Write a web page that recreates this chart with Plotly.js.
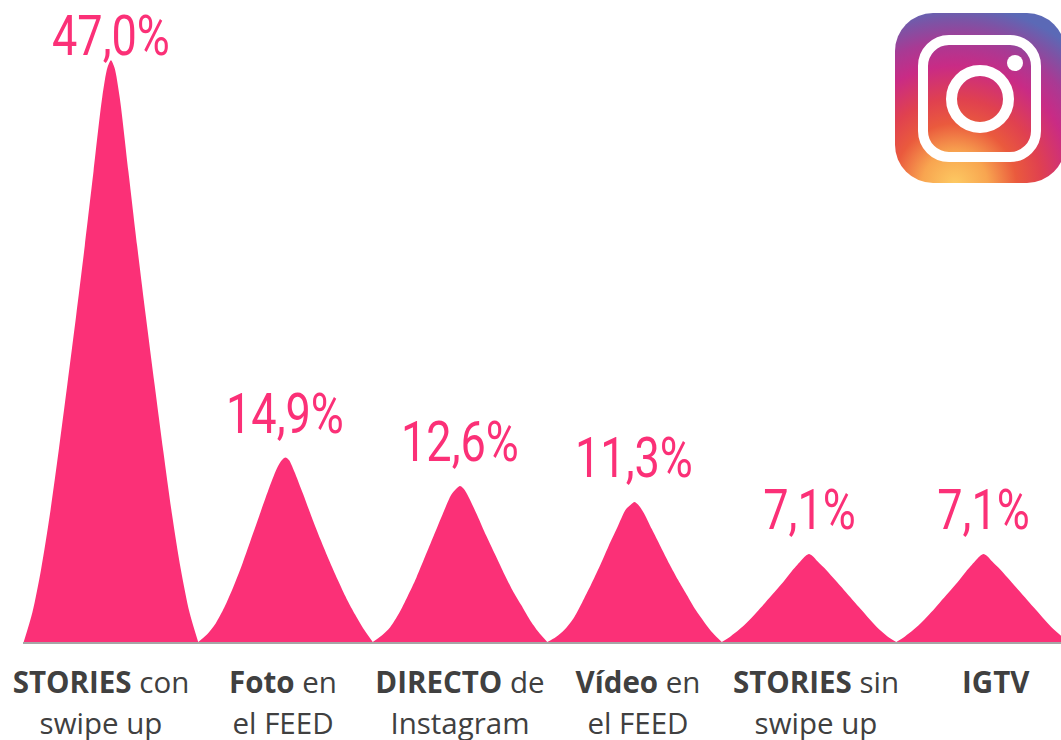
<!DOCTYPE html>
<html>
<head>
<meta charset="utf-8">
<script src="https://cdn.plot.ly/plotly-3.0.1.min.js"></script>
<style>html,body{margin:0;padding:0;background:#fff;overflow:hidden}</style>
</head>
<body>
<div id="chart" style="width:1061px;height:740px"></div>
<script>
// Values
const values = [47.0, 14.9, 12.6, 11.3, 7.1, 7.1];
const valueLabels = ["47,0%", "14,9%", "12,6%", "11,3%", "7,1%", "7,1%"];
const categoryLabels = [
  "<b>STORIES</b> con<br>swipe up",
  "<b>Foto</b> en<br>el FEED",
  "<b>DIRECTO</b> de<br>Instagram",
  "<b>Vídeo</b> en<br>el FEED",
  "<b>STORIES</b> sin<br>swipe up",
  "<b>IGTV</b><br> "
];
// The category labels sit slightly off the peaks in the reference
const labelPositions = [-0.057, 0.986, 2.0, 3.02, 4.04, 5.07];

// Outline of each peak: height (in %) at each offset from the peak
const offsets = [-0.5,-0.45,-0.4,-0.35,-0.3,-0.25,-0.2,-0.15,-0.1,-0.05,-0.02,0,0.02,0.05,0.1,0.15,0.2,0.25,0.3,0.35,0.4,0.45,0.5];
const peak1 = [0,2.4,5.9,10.3,15.4,20.8,26.3,32.0,38.0,44.0,46.4,47,46.4,44.0,38.0,32.0,26.3,20.8,15.4,10.3,5.9,2.4,0];
const peak2 = [0,0.6,1.5,2.8,4.4,6.2,8.2,10.2,12.2,14.0,14.7,14.9,14.7,13.8,12.0,10.1,8.3,6.6,5.0,3.5,2.2,1.0,0];
const peak3 = [0,0.5,1.2,2.3,3.7,5.2,6.9,8.6,10.3,11.9,12.4,12.6,12.4,11.7,10.2,8.6,7.1,5.6,4.2,3.0,1.8,0.8,0];
const peak4 = [0,0.4,1.0,1.9,3.2,4.6,6.1,7.7,9.2,10.7,11.1,11.3,11.1,10.5,9.1,7.7,6.3,5.0,3.8,2.6,1.6,0.7,0];
const peak5 = [0,0.45,1.0,1.65,2.4,3.2,4.0,4.8,5.7,6.5,6.95,7.1,6.95,6.5,5.8,5.0,4.2,3.4,2.6,1.8,1.05,0.45,0];
const peak6 = [0,0.45,1.0,1.65,2.4,3.2,4.0,4.8,5.7,6.5,6.95,7.1,6.95,6.5,5.8,5.0,4.2,3.4,2.6,1.8,1.05,0.45,0];
const peaks = [peak1, peak2, peak3, peak4, peak5, peak6];

const logoSvg = `<svg xmlns="http://www.w3.org/2000/svg" width="170" height="170" viewBox="0 0 170 170">
<defs>
<radialGradient id="g" gradientUnits="userSpaceOnUse" cx="60" cy="172" r="205">
<stop offset="0" stop-color="#fdcb63"/><stop offset="0.16" stop-color="#f8a550"/>
<stop offset="0.3" stop-color="#ea5a3d"/><stop offset="0.42" stop-color="#e0414f"/>
<stop offset="0.58" stop-color="#c92b85"/><stop offset="0.7" stop-color="#a83a94"/>
<stop offset="0.8" stop-color="#7d53a5"/><stop offset="0.88" stop-color="#5b69b6"/>
</radialGradient>
</defs>
<rect width="170" height="170" rx="38" fill="url(#g)"/>
<rect x="28" y="27" width="113" height="117" rx="26" fill="none" stroke="#fff" stroke-width="10"/>
<circle cx="85" cy="86" r="28.5" fill="none" stroke="#fff" stroke-width="11"/>
<circle cx="120" cy="50" r="8" fill="#fff"/>
</svg>`;

const pink = "#fb3077";
const traces = peaks.map((p, i) => ({
  x: offsets.map(o => i + o), y: p, type: "scatter", mode: "lines", fill: "tozeroy",
  fillcolor: pink, line: {color: pink, width: 0, shape: "spline", smoothing: 0.8},
  hoverinfo: "skip", showlegend: false
}));

const annotations = values.map((v, i) => ({
  x: i, y: v, xref: "x", yref: "y", text: valueLabels[i], showarrow: false,
  xanchor: "center", yanchor: "bottom", yshift: i === 0 ? -10 : 10,
  font: {family: "Roboto, sans-serif", size: 55, color: pink}
}));

const layout = {
  width: 1061, height: 740,
  margin: {l: 23, r: 0, t: 0, b: 98, pad: 0},
  paper_bgcolor: "#fff", plot_bgcolor: "#fff", showlegend: false,
  xaxis: {
    range: [-0.504, 5.444], showgrid: false, zeroline: false,
    showline: true, linecolor: "#a6a6a6", linewidth: 2,
    tickmode: "array", tickvals: labelPositions, ticktext: categoryLabels,
    ticks: "", ticklabelstandoff: 15, tickangle: 0,
    tickfont: {family: "Open Sans, sans-serif", size: 29.5, color: "#404040"}
  },
  yaxis: {range: [0, 51.86], visible: false, showgrid: false, zeroline: false},
  annotations: annotations,
  images: [{
    source: "data:image/svg+xml;charset=utf-8," + encodeURIComponent(logoSvg),
    xref: "paper", yref: "paper", x: (895 - 23) / 1038, y: (642 - 13) / 642,
    sizex: 170 / 1038, sizey: 170 / 642, xanchor: "left", yanchor: "top",
    sizing: "stretch", layer: "above"
  }]
};
Plotly.newPlot("chart", traces, layout, {displayModeBar: false, staticPlot: true}).then(gd => {
  // The reference value labels use a condensed face: narrow the text around its centre
  gd.querySelectorAll(".annotation-text").forEach(t => {
    const b = t.getBBox();
    const cx = b.x + b.width / 2;
    t.setAttribute("transform", `translate(${cx},0) scale(0.82,1) translate(${-cx},0)`);
  });
  // Slightly wider line spacing for the two-line category labels
  gd.querySelectorAll(".xtick text").forEach(t => {
    const lines = t.querySelectorAll("tspan.line");
    lines.forEach((l, i) => {
      const y = parseFloat(l.getAttribute("y"));
      if (i > 0 && !isNaN(y)) l.setAttribute("y", y + 1);
      if (i === 0 && !isNaN(y)) l.setAttribute("y", y - 1);
    });
  });
});
</script>
</body>
</html>
